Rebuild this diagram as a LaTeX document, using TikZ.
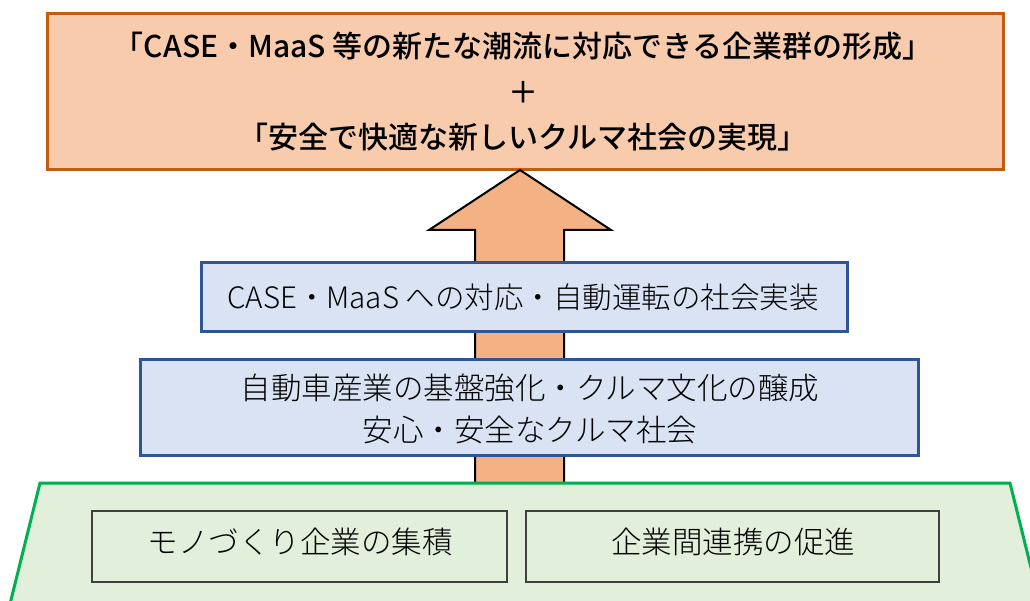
\documentclass[tikz,border=0pt]{standalone}
\usepackage{fontspec}
\newfontfamily\cjkm{Noto Sans CJK JP Medium}
\newfontfamily\cjkl{Noto Sans CJK JP Light}
\definecolor{goalfill}{HTML}{F8CBAD}
\definecolor{goaldraw}{HTML}{C55A11}
\definecolor{arrowfill}{HTML}{F4B183}
\definecolor{bluefill}{HTML}{DAE3F3}
\definecolor{bluedraw}{HTML}{2F5597}
\definecolor{greenfill}{HTML}{E2EFDA}
\definecolor{greendraw}{HTML}{00B050}
\definecolor{graydraw}{HTML}{404040}
\tikzset{
  goalbox/.style={draw=goaldraw, fill=goalfill, line width=3pt},
  bluebox/.style={draw=bluedraw, fill=bluefill, line width=3pt},
  basebox/.style={draw=graydraw, fill=greenfill, line width=1.3pt},
  bigarrow/.style={draw=black, fill=arrowfill, line width=2pt, line join=miter},
  goaltext/.style={font=\cjkm\fontsize{30}{45.5}\selectfont, align=center},
  bodytext/.style={font=\cjkl\fontsize{30.5}{42}\selectfont, align=center},
  casetext/.style={font=\cjkl\fontsize{29.5}{42}\selectfont, align=center},
}
\begin{document}
\begin{tikzpicture}[x=1pt, y=-1pt]
\useasboundingbox (0,0) rectangle (1030,601);
% goal box
\draw[goalbox] (47,14) rectangle (1003,170);
\node[goaltext] (goal) at (523,92) {「CASE・MaaS 等の新たな潮流に対応できる企業群の形成」\\＋\\「安全で快適な新しいクルマ社会の実現」};
% big arrow
\coordinate (tip) at (520,170);
\draw[bigarrow] (tip) -- (611,230) -- (564,230) -- (564,483) -- (475,483) -- (475,230) -- (429,230) -- cycle;
% blue boxes
\draw[bluebox] (201,263) rectangle (847,332);
\node[casetext] (case) at (523,297) {CASE・MaaS への対応・自動運転の社会実装};
\draw[bluebox] (140,359) rectangle (918,455);
\node[bodytext] (base) at (530,409) {自動車産業の基盤強化・クルマ文化の醸成\\安心・安全なクルマ社会};
% green trapezoid
\begin{scope}
\clip (0,0) rectangle (1030,601);
\draw[draw=greendraw, fill=greenfill, line width=3pt, line join=miter] (10,604) -- (40,483) -- (1010,483) -- (1040,604);
\end{scope}
\draw[basebox] (92,511) rectangle (507,582);
\node[bodytext] (mono) at (300,542) {モノづくり企業の集積};
\draw[basebox] (526,511) rectangle (939,582);
\node[bodytext] (renkei) at (733,542) {企業間連携の促進};
\end{tikzpicture}
\end{document}
